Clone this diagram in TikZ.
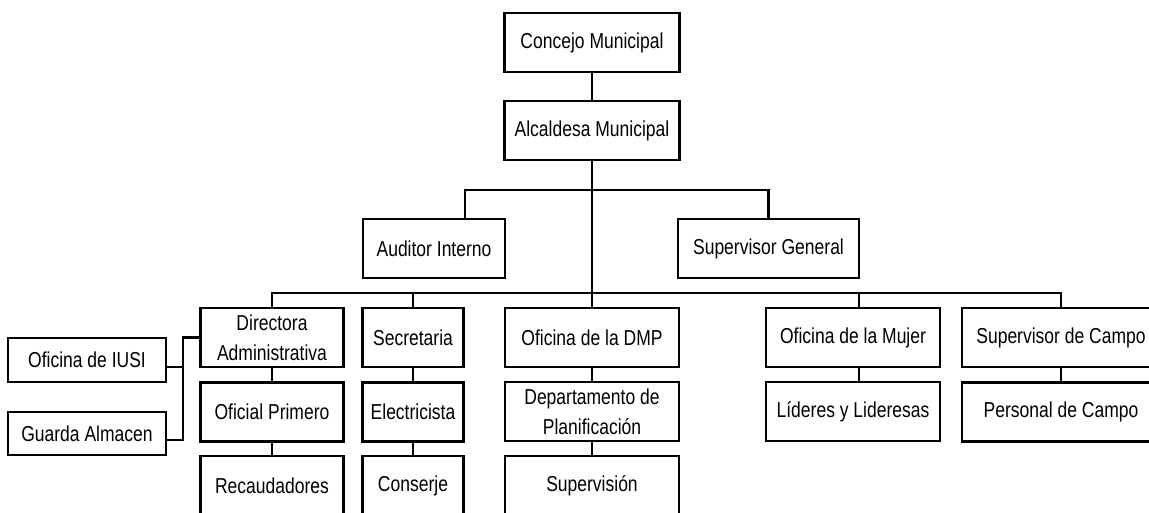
\documentclass[tikz,border=0pt]{standalone}
\usepackage{fontspec}
\setmainfont{Liberation Sans}[FakeStretch=0.81]
\begin{document}
\begin{tikzpicture}[x=0.02cm, y=-0.02cm, line width=1.2pt,
                    box/.style = {draw, line width=1.2pt, inner sep=0pt, align=center,
                                  minimum width=#1, minimum height=1.18cm,
                                  font=\fontsize{12.3}{17}\selectfont}]
                    \useasboundingbox (0,0) rectangle (1149,512);
                    \clip (0,0) rectangle (1149,512);

                    \node [box=3.5cm] (concejo) at (592,42.5) {Concejo Municipal};
                    \node [box=3.5cm] (alcaldesa) at (592,130.5) {Alcaldesa Municipal};
                    \node [box=2.84cm] (auditor) at (434,248.5) {Auditor Interno};
                    \node [box=3.62cm] (supgen) at (768.5,248.5) {Supervisor General};

                    \node [box=2.86cm] (directora) at (272,337.5) {Directora\\Administrativa};
                    \node [box=2.02cm] (secretaria) at (413,337.5) {Secretaria};
                    \node [box=3.48cm] (dmp) at (592,337.5) {Oficina de la DMP};
                    \node [box=3.48cm] (mujer) at (853,337.5) {Oficina de la Mujer};
                    \node [box=3.96cm] (campo) at (1061,337.5) {Supervisor de Campo};

                    \node [box=2.86cm] (oficial) at (272,412) {Oficial Primero};
                    \node [box=2.02cm] (electricista) at (413,412) {Electricista};
                    \node [box=3.48cm] (depto) at (592,411.5) {Departamento de\\Planificación};
                    \node [box=3.48cm] (lideres) at (853,411.5) {Líderes y Lideresas};
                    \node [box=3.96cm] (personal) at (1061,412) {Personal de Campo};

                    \node [box=2.86cm, minimum height=1.2cm] (recaud) at (272,486) {Recaudadores};
                    \node [box=2.02cm, minimum height=1.2cm] (conserje) at (413,486) {Conserje};
                    \node [box=3.48cm, minimum height=1.2cm] (supervision) at (592,486) {Supervisión};

                    \node [box=3.16cm, minimum height=0.88cm] (iusi) at (87,360) {Oficina de IUSI};
                    \node [box=3.16cm, minimum height=0.86cm] (guarda) at (87,433.5) {Guarda Almacen};

                    \coordinate (bus1) at (465,190);
                    \coordinate (bus2) at (592,293);
                    \coordinate (mdrop) at (859,293);
                    \coordinate (brkm) at (183,367);
                    \coordinate (brkb) at (183,440);

                    \draw (concejo) -- (alcaldesa);
                    \draw (alcaldesa) -- (dmp);
                    \draw (bus1 |- auditor.north) -- (bus1) -| (supgen.north);
                    \draw (directora.north) |- (bus2) -| (campo.north);
                    \draw (secretaria.north) -- (secretaria.north |- bus2);
                    \draw (mujer.north -| mdrop) -- (mdrop);
                    \draw (mujer.south -| mdrop) -- (lideres.north -| mdrop);

                    \foreach \a/\b in {directora/oficial, oficial/recaud, secretaria/electricista,
                                       electricista/conserje, dmp/depto, depto/supervision, campo/personal}
                        \draw (\a) -- (\b);

                    \draw (directora.west) -| (brkb) -- (guarda.east |- brkb);
                    \draw (iusi.east |- brkm) -- (brkm);
                \end{tikzpicture}
\end{document}
